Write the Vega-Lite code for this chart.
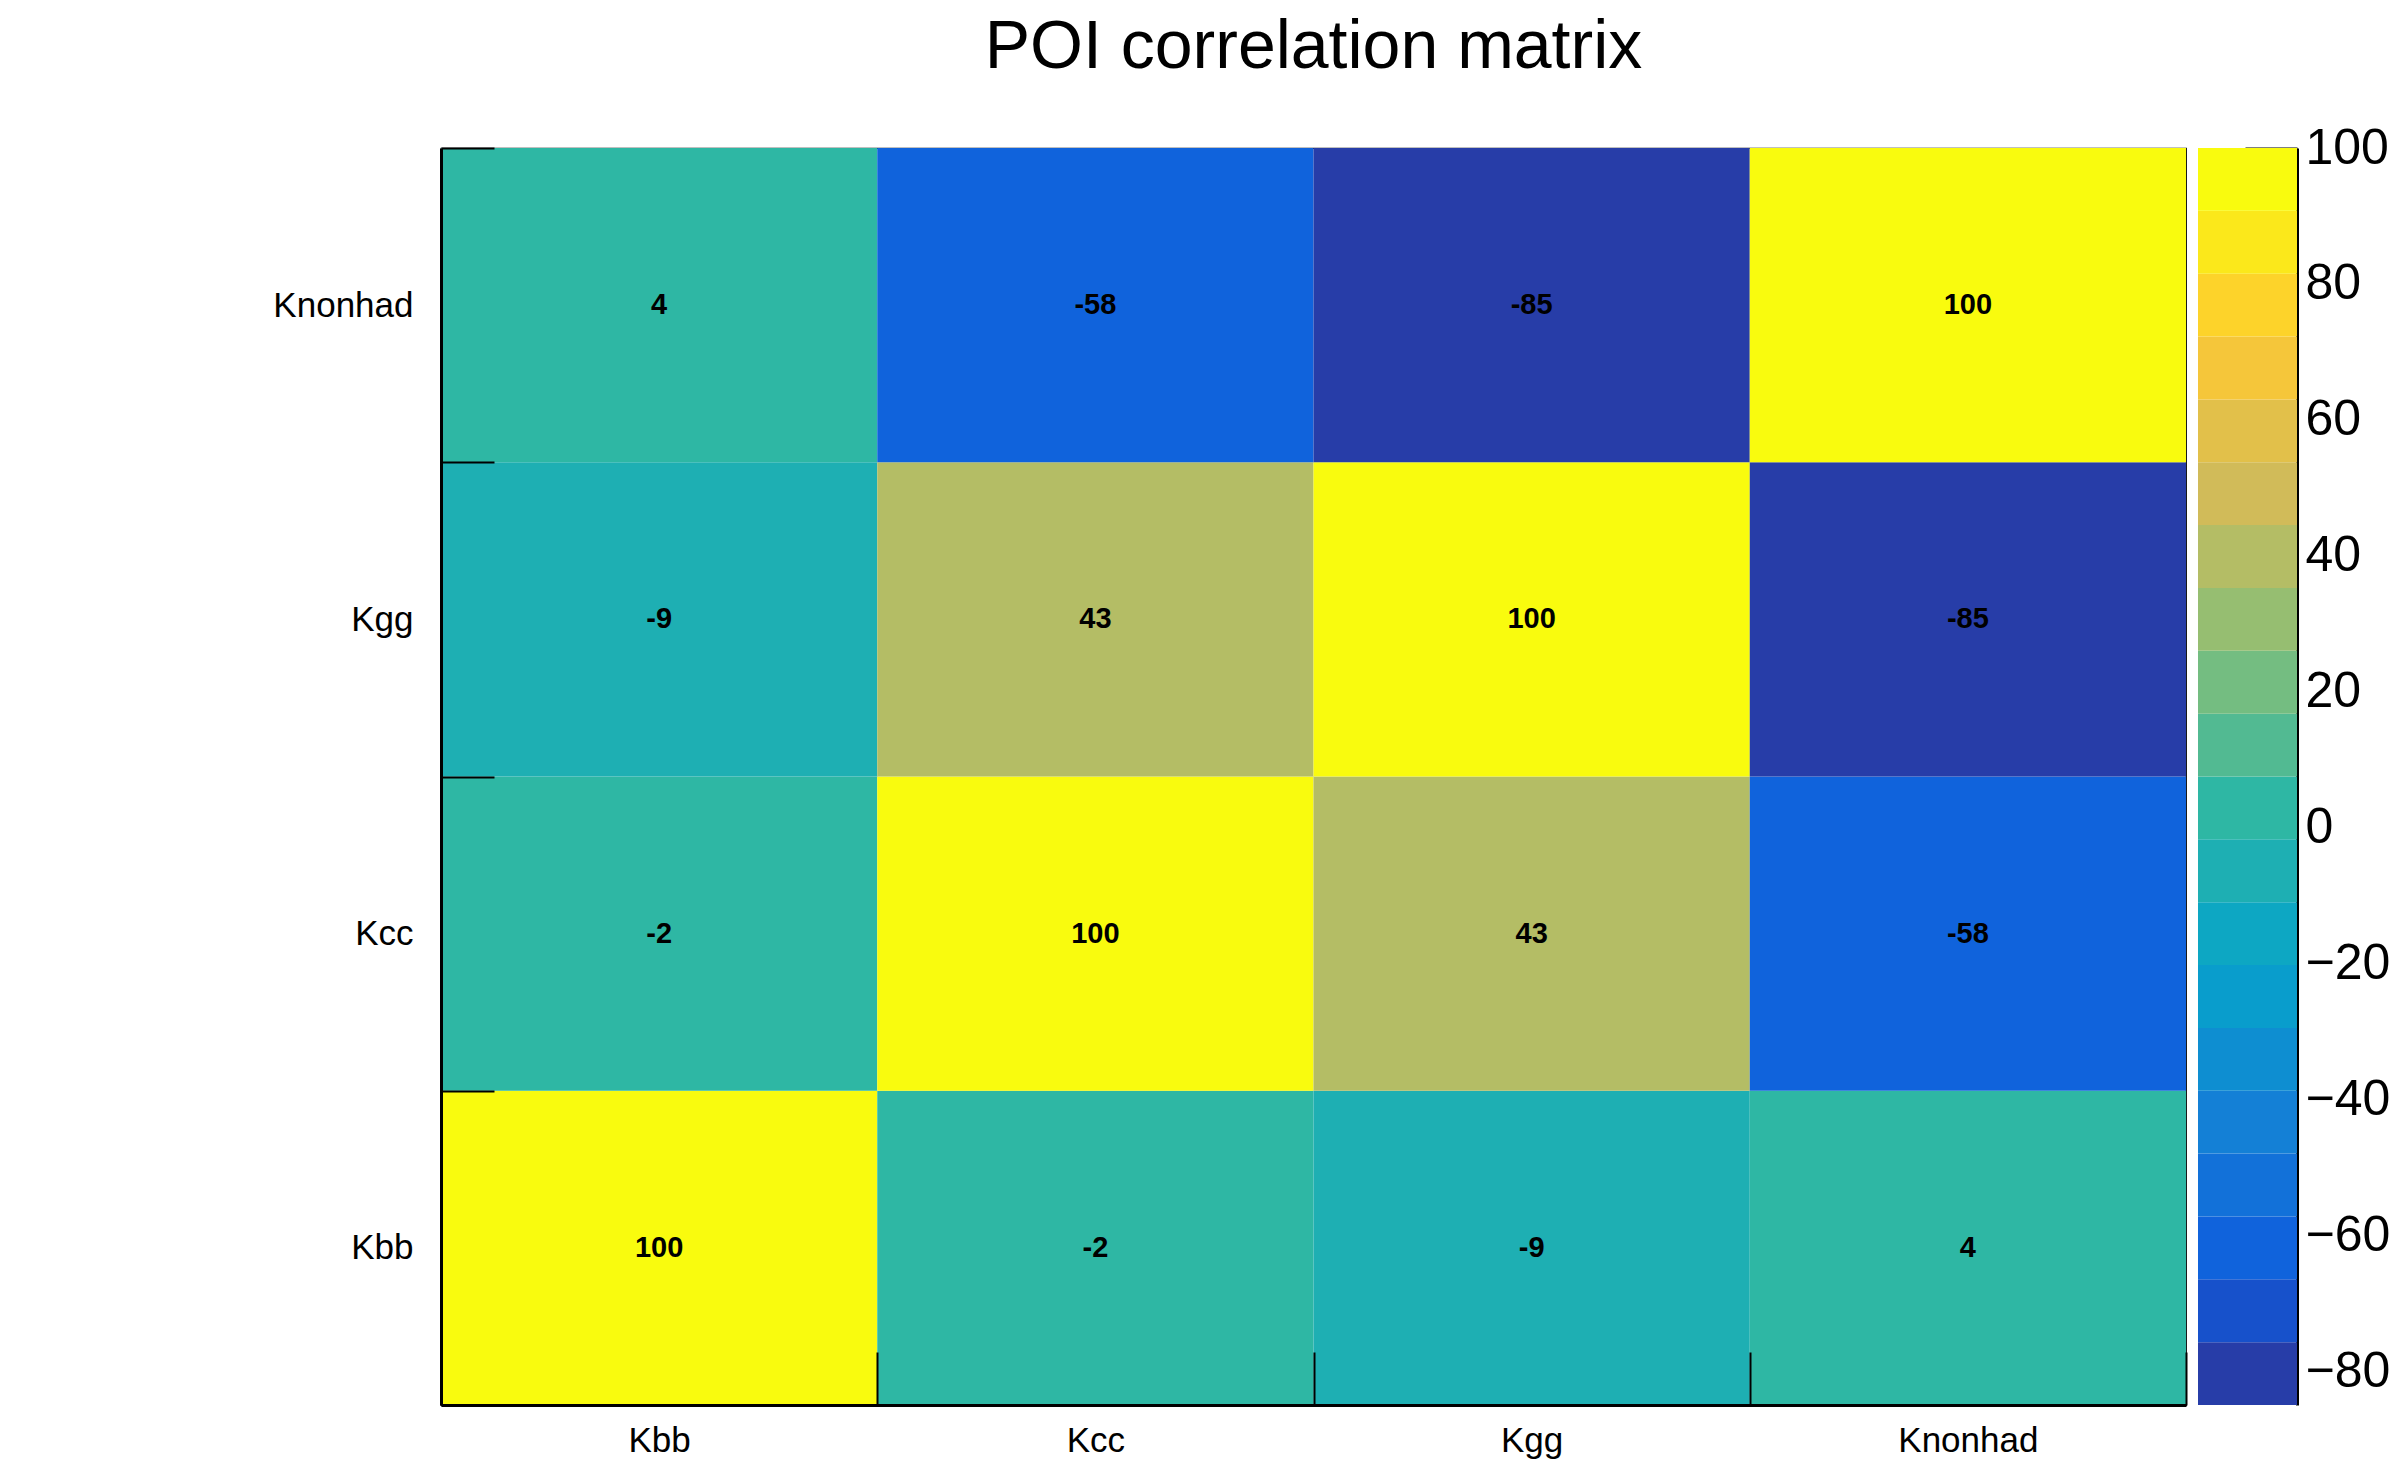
{
  "$schema": "https://vega.github.io/schema/vega-lite/v6.json",
  "padding": {"left": 272, "top": 13, "right": 0, "bottom": 0},
  "background": "white",
  "config": {"font": "Liberation Sans", "view": {"stroke": null}},
  "datasets": {
    "cells": [
      {"col": "Kbb", "row": "Kbb", "value": 100, "label": "100"},
      {"col": "Kcc", "row": "Kbb", "value": -1.6, "label": "-2"},
      {"col": "Kgg", "row": "Kbb", "value": -9, "label": "-9"},
      {"col": "Knonhad", "row": "Kbb", "value": 4, "label": "4"},
      {"col": "Kbb", "row": "Kcc", "value": -1.6, "label": "-2"},
      {"col": "Kcc", "row": "Kcc", "value": 100, "label": "100"},
      {"col": "Kgg", "row": "Kcc", "value": 43, "label": "43"},
      {"col": "Knonhad", "row": "Kcc", "value": -58, "label": "-58"},
      {"col": "Kbb", "row": "Kgg", "value": -9, "label": "-9"},
      {"col": "Kcc", "row": "Kgg", "value": 43, "label": "43"},
      {"col": "Kgg", "row": "Kgg", "value": 100, "label": "100"},
      {"col": "Knonhad", "row": "Kgg", "value": -85, "label": "-85"},
      {"col": "Kbb", "row": "Knonhad", "value": 4, "label": "4"},
      {"col": "Kcc", "row": "Knonhad", "value": -58, "label": "-58"},
      {"col": "Kgg", "row": "Knonhad", "value": -85, "label": "-85"},
      {"col": "Knonhad", "row": "Knonhad", "value": 100, "label": "100"}
    ],
    "bands": [
      {"lo": -85, "hi": -75.75},
      {"lo": -75.75, "hi": -66.5},
      {"lo": -66.5, "hi": -57.25},
      {"lo": -57.25, "hi": -48},
      {"lo": -48, "hi": -38.75},
      {"lo": -38.75, "hi": -29.5},
      {"lo": -29.5, "hi": -20.25},
      {"lo": -20.25, "hi": -11},
      {"lo": -11, "hi": -1.75},
      {"lo": -1.75, "hi": 7.5},
      {"lo": 7.5, "hi": 16.75},
      {"lo": 16.75, "hi": 26},
      {"lo": 26, "hi": 35.25},
      {"lo": 35.25, "hi": 44.5},
      {"lo": 44.5, "hi": 53.75},
      {"lo": 53.75, "hi": 63},
      {"lo": 63, "hi": 72.25},
      {"lo": 72.25, "hi": 81.5},
      {"lo": 81.5, "hi": 90.75},
      {"lo": 90.75, "hi": 100}
    ]
  },
  "spacing": 10,
  "resolve": {"scale": {"color": "independent"}},
  "hconcat": [
    {
      "title": {"text": "POI correlation matrix", "fontSize": 68, "fontWeight": "normal", "font": "Liberation Sans", "anchor": "middle", "frame": "group", "offset": 49, "color": "black"},
      "width": 1745,
      "height": 1257,
      "view": {"stroke": "black", "strokeWidth": 1.2},
      "data": {"name": "cells"},
      "encoding": {
        "x": {
          "field": "col", "type": "nominal",
          "scale": {"domain": ["Kbb", "Kcc", "Kgg", "Knonhad"], "paddingInner": 0, "paddingOuter": 0},
          "axis": {"orient": "bottom", "title": null, "domainColor": "black", "domainWidth": 3, "tickColor": "black", "tickWidth": 2, "tickSize": -53, "tickBand": "extent", "labelPadding": 71, "labelFontSize": 35, "labelColor": "black", "labelFont": "Liberation Sans", "labelAngle": 0}
        },
        "y": {
          "field": "row", "type": "nominal",
          "scale": {"domain": ["Knonhad", "Kgg", "Kcc", "Kbb"], "paddingInner": 0, "paddingOuter": 0},
          "axis": {"orient": "left", "title": null, "domainColor": "black", "domainWidth": 3, "tickColor": "black", "tickWidth": 2, "tickSize": -53, "tickBand": "extent", "labelPadding": 81, "labelFontSize": 35, "labelColor": "black", "labelFont": "Liberation Sans"}
        }
      },
      "layer": [
        {
          "mark": {"type": "rect"},
          "encoding": {
            "color": {
              "field": "value", "type": "quantitative",
              "scale": {"type": "threshold",
                "domain": [-75.75, -66.5, -57.25, -48, -38.75, -29.5, -20.25, -11, -1.75, 7.5, 16.75, 26, 35.25, 44.5, 53.75, 63, 72.25, 81.5, 90.75],
                "range": ["#273DA8", "#1751CB", "#1063DC", "#1271D9", "#1480D6", "#0E8ED1", "#099DCC", "#0DA7C3", "#1EAFB3", "#2EB7A4", "#52BA92", "#74BD81", "#96BE71", "#B4BD65", "#D1BB59", "#E2C04A", "#F5C63A", "#FDD32A", "#FBE81B", "#F9FB0E"]},
              "legend": null
            }
          }
        },
        {
          "mark": {"type": "text", "font": "Liberation Sans", "fontWeight": "bold", "fontSize": 29, "color": "black"},
          "encoding": {"text": {"field": "label", "type": "nominal"}}
        }
      ]
    },
    {
      "width": 99,
      "height": 1257,
      "data": {"name": "bands"},
      "mark": {"type": "rect"},
      "encoding": {
        "y": {
          "field": "lo", "type": "quantitative",
          "scale": {"domain": [-85, 100], "nice": false, "zero": false},
          "axis": {"orient": "right", "title": null, "values": [-80, -60, -40, -20, 0, 20, 40, 60, 80, 100], "grid": false, "domainColor": "black", "domainWidth": 3, "tickColor": "black", "tickWidth": 2, "tickSize": -52, "labelPadding": 60, "labelFontSize": 50, "labelColor": "black", "labelFont": "Liberation Sans", "labelFlush": false, "labelOverlap": false, "labelBound": false}
        },
        "y2": {"field": "hi"},
        "color": {
          "field": "lo", "type": "quantitative",
          "scale": {"type": "threshold",
            "domain": [-75.75, -66.5, -57.25, -48, -38.75, -29.5, -20.25, -11, -1.75, 7.5, 16.75, 26, 35.25, 44.5, 53.75, 63, 72.25, 81.5, 90.75],
            "range": ["#273DA8", "#1751CB", "#1063DC", "#1271D9", "#1480D6", "#0E8ED1", "#099DCC", "#0DA7C3", "#1EAFB3", "#2EB7A4", "#52BA92", "#74BD81", "#96BE71", "#B4BD65", "#D1BB59", "#E2C04A", "#F5C63A", "#FDD32A", "#FBE81B", "#F9FB0E"]},
          "legend": null
        }
      }
    }
  ]
}
